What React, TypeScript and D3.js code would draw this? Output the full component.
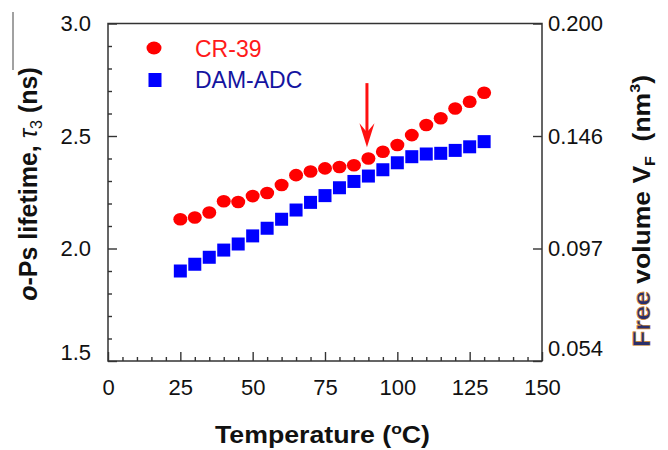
import React, { useEffect, useRef } from 'react';
import * as d3 from 'd3';

// temperature (°C) and o-Ps lifetime tau3 (ns)
const temps = [25, 30, 35, 40, 45, 50, 55, 60, 65, 70, 75, 80, 85, 90, 95, 100, 105, 110, 115, 120, 125, 130];
const cr39 = [2.13, 2.138, 2.16, 2.21, 2.207, 2.233, 2.247, 2.282, 2.326, 2.342, 2.356, 2.362, 2.37, 2.4, 2.43, 2.46, 2.504, 2.549, 2.579, 2.622, 2.652, 2.692];
const damAdc = [1.9, 1.93, 1.961, 1.993, 2.02, 2.056, 2.09, 2.13, 2.171, 2.205, 2.235, 2.27, 2.298, 2.322, 2.35, 2.381, 2.408, 2.42, 2.423, 2.436, 2.452, 2.475];

const xTicks = [0, 25, 50, 75, 100, 125, 150];
const xMinor = [5, 10, 15, 20, 30, 35, 40, 45, 55, 60, 65, 70, 80, 85, 90, 95, 105, 110, 115, 120, 130, 135, 140, 145];
const yTicks = [1.5, 2.0, 2.5, 3.0];
const yLabels = ['1.5', '2.0', '2.5', '3.0'];
const yMinor = [1.6, 1.7, 1.8, 1.9, 2.1, 2.2, 2.3, 2.4, 2.6, 2.7, 2.8, 2.9];
const vfLabels = ['0.054', '0.097', '0.146', '0.200'];

// arrow marking the transition near 90 °C
const arrowT = 89.5;
const arrowFrom = 2.735;
const arrowTo = 2.45;

const font = 'Liberation Sans, Arial, Helvetica, sans-serif';

const App = () => {
  const svgRef = useRef(null);

  useEffect(() => {
    const svg = d3.select(svgRef.current);
    svg.selectAll('*').remove();

    const x = d3.scaleLinear().domain([0, 150]).range([108, 542]);
    const y = d3.scaleLinear().domain([1.5, 3]).range([361, 23.5]);

    const styleAxis = (g, size) => {
      g.select('.domain').remove();
      g.selectAll('line').attr('stroke', '#333').attr('stroke-width', 1.4);
      g.selectAll('text')
        .attr('font-family', font)
        .attr('font-size', size)
        .attr('fill', '#111');
    };

    // frame
    svg.append('rect')
      .attr('x', x(0)).attr('y', y(3))
      .attr('width', x(150) - x(0)).attr('height', y(1.5) - y(3))
      .attr('fill', 'none').attr('stroke', '#333').attr('stroke-width', 1.5);

    // left axis
    const gl = svg.append('g').attr('transform', `translate(${x(0)},0)`)
      .call(d3.axisLeft(y).tickValues(yTicks).tickFormat((d, i) => yLabels[i])
        .tickSizeInner(-9).tickSizeOuter(0).tickPadding(17));
    styleAxis(gl, 22);
    gl.selectAll('.tick text').filter(d => d === 1.5).attr('transform', 'translate(0,-9)');

    const glm = svg.append('g').attr('transform', `translate(${x(0)},0)`)
      .call(d3.axisLeft(y).tickValues(yMinor).tickFormat(() => '').tickSizeInner(-4).tickSizeOuter(0));
    styleAxis(glm, 22);

    // right axis (free volume)
    const gr = svg.append('g').attr('transform', `translate(${x(150)},0)`)
      .call(d3.axisRight(y).tickValues(yTicks).tickFormat((d, i) => vfLabels[i])
        .tickSizeInner(-9).tickSizeOuter(0).tickPadding(6));
    styleAxis(gr, 22);
    gr.selectAll('.tick text').filter(d => d === 1.5).attr('transform', 'translate(0,-13)');

    // bottom axis
    const gb = svg.append('g').attr('transform', `translate(0,${y(1.5)})`)
      .call(d3.axisBottom(x).tickValues(xTicks).tickFormat(d3.format('d'))
        .tickSizeInner(-9).tickSizeOuter(0).tickPadding(18));
    styleAxis(gb, 22);

    const gbm = svg.append('g').attr('transform', `translate(0,${y(1.5)})`)
      .call(d3.axisBottom(x).tickValues(xMinor).tickFormat(() => '').tickSizeInner(-4).tickSizeOuter(0));
    styleAxis(gbm, 22);

    // DAM-ADC squares
    const sq = 13;
    svg.append('g').selectAll('rect')
      .data(temps)
      .join('rect')
      .attr('x', d => x(d) - sq / 2)
      .attr('y', (d, i) => y(damAdc[i]) - sq / 2)
      .attr('width', sq).attr('height', sq)
      .attr('fill', '#0000ff');

    // CR-39 circles
    svg.append('g').selectAll('ellipse')
      .data(temps)
      .join('ellipse')
      .attr('cx', d => x(d))
      .attr('cy', (d, i) => y(cr39[i]))
      .attr('rx', 7).attr('ry', 6.3)
      .attr('fill', '#ff0000');

    // arrow
    const ax = x(arrowT);
    const tip = y(arrowTo);
    svg.append('line')
      .attr('x1', ax).attr('x2', ax)
      .attr('y1', y(arrowFrom)).attr('y2', tip - 14)
      .attr('stroke', '#ff1010').attr('stroke-width', 3);
    svg.append('path')
      .attr('d', `M${ax - 7.5},${tip - 24} L${ax},${tip} L${ax + 7.5},${tip - 24} L${ax},${tip - 15} Z`)
      .attr('fill', '#ff1010');

    // legend
    svg.append('ellipse').attr('cx', 154).attr('cy', 48).attr('rx', 7.5).attr('ry', 6.5).attr('fill', '#ff0000');
    svg.append('text').attr('x', 195).attr('y', 57)
      .attr('font-family', font).attr('font-size', 23).attr('fill', '#ff1a1a').text('CR-39');
    svg.append('rect').attr('x', 155 - 6.5).attr('y', 80 - 7).attr('width', 13).attr('height', 14).attr('fill', '#0000ff');
    svg.append('text').attr('x', 195).attr('y', 88)
      .attr('font-family', font).attr('font-size', 23).attr('fill', '#1414a0').text('DAM-ADC');

    // x title
    const xt = svg.append('text')
      .attr('x', 322.5).attr('y', 443)
      .attr('text-anchor', 'middle')
      .attr('font-family', font).attr('font-size', 23).attr('font-weight', 'bold').attr('fill', '#111')
      .attr('textLength', 215).attr('lengthAdjust', 'spacingAndGlyphs');
    xt.append('tspan').text('Temperature (');
    xt.append('tspan').attr('font-size', 15).attr('dy', -9).text('o');
    xt.append('tspan').attr('dy', 9).text('C)');

    // left title
    const lt = svg.append('text')
      .attr('transform', 'translate(37,184) rotate(-90)')
      .attr('text-anchor', 'middle')
      .attr('font-family', font).attr('font-size', 25).attr('font-weight', 'bold').attr('fill', '#111');
    lt.append('tspan').attr('font-style', 'italic').text('o');
    lt.append('tspan').text('-Ps lifetime, ');
    lt.append('tspan').attr('font-style', 'italic').attr('font-weight', 'normal').text('τ');
    lt.append('tspan').attr('font-size', 16).attr('font-weight', 'normal').attr('dy', 5).text('3');
    lt.append('tspan').attr('dy', -5).text(' (ns)');

    // right title
    const rt = svg.append('text')
      .attr('transform', 'translate(650,211) rotate(-90)')
      .attr('text-anchor', 'middle')
      .attr('font-family', font).attr('font-size', 23).attr('font-weight', 'bold').attr('fill', '#111')
      .attr('textLength', 272).attr('lengthAdjust', 'spacingAndGlyphs');
    rt.append('tspan').attr('fill', '#2a2f6a').attr('stroke', '#d88a2a').attr('stroke-width', 0.6).text('Free');
    rt.append('tspan').text(' volume V');
    rt.append('tspan').attr('font-size', 14).attr('dy', 5).text('F');
    rt.append('tspan').attr('dy', -5).text('\u00a0 (nm');
    rt.append('tspan').attr('font-size', 14).attr('dy', -10).text('3');
    rt.append('tspan').attr('dy', 10).text(')');

    // thin stray line near the left title
    svg.append('line').attr('x1', 13).attr('x2', 13).attr('y1', 12).attr('y2', 70)
      .attr('stroke', '#444').attr('stroke-width', 1);
  }, []);

  return (
    <svg
      ref={svgRef}
      width={668}
      height={450}
      style={{ position: 'absolute', left: 0, top: 0, background: '#fff' }}
    />
  );
};

export default App;
